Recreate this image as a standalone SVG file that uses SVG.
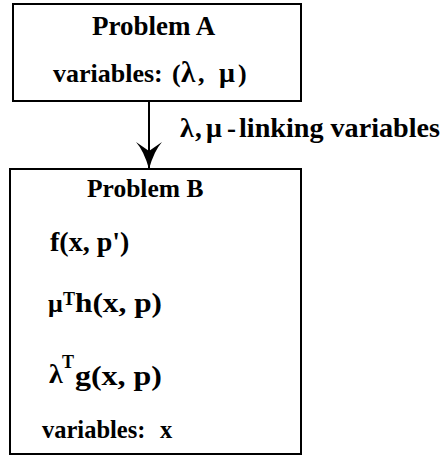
<svg xmlns="http://www.w3.org/2000/svg" width="447" height="457" viewBox="0 0 447 457">
<defs>
<style>
.box{fill:#fff;stroke:#000;stroke-width:2}
.t{font-family:"Liberation Serif","Times New Roman",serif;font-weight:bold;fill:#000}
.edge{stroke:#000;stroke-width:2;fill:none}
</style>
<marker id="arr" markerUnits="userSpaceOnUse" markerWidth="28" markerHeight="26" refX="27" refY="13" orient="auto" viewBox="0 0 28 26">
<path d="M0,0 Q9,8 27,13 Q9,18 0,26 L9,13 Z" fill="#000"/>
</marker>
</defs>
<rect width="447" height="457" fill="#fff"/>
<g id="connectors">
<line class="edge" x1="149" y1="101" x2="149" y2="169" marker-end="url(#arr)"/>
<text class="t" y="137" font-size="27"><tspan x="180" font-size="28">λ</tspan><tspan x="195">,</tspan><tspan x="206" font-size="28">μ</tspan><tspan x="227">-</tspan><tspan x="239" textLength="201" lengthAdjust="spacingAndGlyphs">linking variables</tspan></text>
</g>
<g id="problemA">
<rect class="box" x="13" y="4" width="288" height="97"/>
<text class="t" x="92" y="35" font-size="27">Problem A</text>
<text class="t" y="82" font-size="26"><tspan x="53">variables:</tspan><tspan x="172">(</tspan><tspan x="181" font-size="29">λ</tspan><tspan x="198">,</tspan><tspan x="219" font-size="28">μ</tspan><tspan x="238">)</tspan></text>
</g>
<g id="problemB">
<rect class="box" x="10" y="169" width="291" height="285"/>
<text class="t" x="87" y="197" font-size="25.5">Problem B</text>
<text class="t" x="50" y="251" font-size="28">f(x, p')</text>
<text class="t" font-size="28"><tspan x="48" y="312" font-size="26">μ</tspan><tspan x="63" y="305" font-size="18">T</tspan><tspan x="75" y="312" textLength="87" lengthAdjust="spacingAndGlyphs">h(x, p)</tspan></text>
<text class="t" font-size="28"><tspan x="49" y="383">λ</tspan><tspan x="62" y="368" font-size="18">T</tspan><tspan x="75" y="385" textLength="87" lengthAdjust="spacingAndGlyphs">g(x, p)</tspan></text>
<text class="t" y="438" font-size="24.5"><tspan x="42">variables:</tspan><tspan x="160">x</tspan></text>
</g>
</svg>
